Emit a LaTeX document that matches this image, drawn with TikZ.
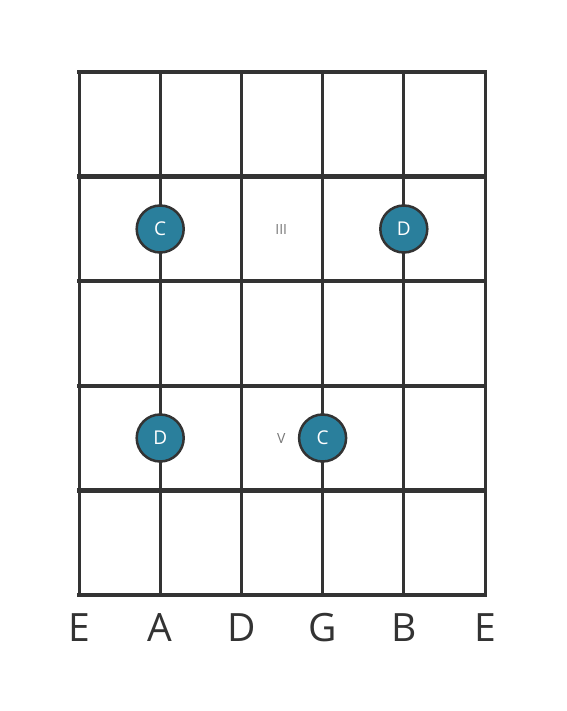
\documentclass[tikz,border=0pt]{standalone}
\usepackage{fontspec}
\setmainfont{Open Sans}
\definecolor{linec}{HTML}{333333}
\definecolor{dotc}{HTML}{2A7F9C}
\definecolor{markc}{HTML}{777777}
\begin{document}
\begin{tikzpicture}[x=1pt,y=-1pt,
  fretline/.style={draw=linec,line width=4.5pt,line cap=rect},
  stringline/.style={draw=linec,line width=3pt},
  notedot/.style={circle,fill=dotc,draw=linec,line width=2.5pt,minimum size=47pt,inner sep=0pt,text=white,font=\fontsize{19}{19}\selectfont},
  posmark/.style={text=markc,font=\fontsize{14}{14}\selectfont},
  strlabel/.style={text=linec,font=\fontsize{39}{39}\selectfont,anchor=base}]
\useasboundingbox (0,0) rectangle (566,711);
\foreach \i/\x in {0/79,1/160.2,2/241.4,3/322.6,4/403.8,5/485}{
  \coordinate (st\i) at (\x,72);
  \coordinate (sb\i) at (\x,595);
  \draw[stringline] (st\i) -- (sb\i);
}
\foreach \j/\y in {0/72,1/176.6,2/281.2,3/385.8,4/490.4,5/595}{
  \coordinate (fl\j) at (79,\y);
  \coordinate (fr\j) at (485,\y);
  \draw[fretline] (fl\j) -- (fr\j);
}
\node[notedot] (c1) at (160.2,229) {C};
\node[notedot] (d1) at (403.8,229) {D};
\node[notedot] (d2) at (160.2,438) {D};
\node[notedot] (c2) at (322.6,438) {C};
\node[posmark] (m3) at (281.2,229.5) {III};
\node[posmark] (m5) at (281.2,438.5) {V};
\node[strlabel] (l0) at (79,641) {E};
\node[strlabel] (l1) at (160.2,641) {A};
\node[strlabel] (l2) at (241.4,641) {D};
\node[strlabel] (l3) at (322.6,641) {G};
\node[strlabel] (l4) at (403.8,641) {B};
\node[strlabel] (l5) at (485,641) {E};
\end{tikzpicture}
\end{document}
